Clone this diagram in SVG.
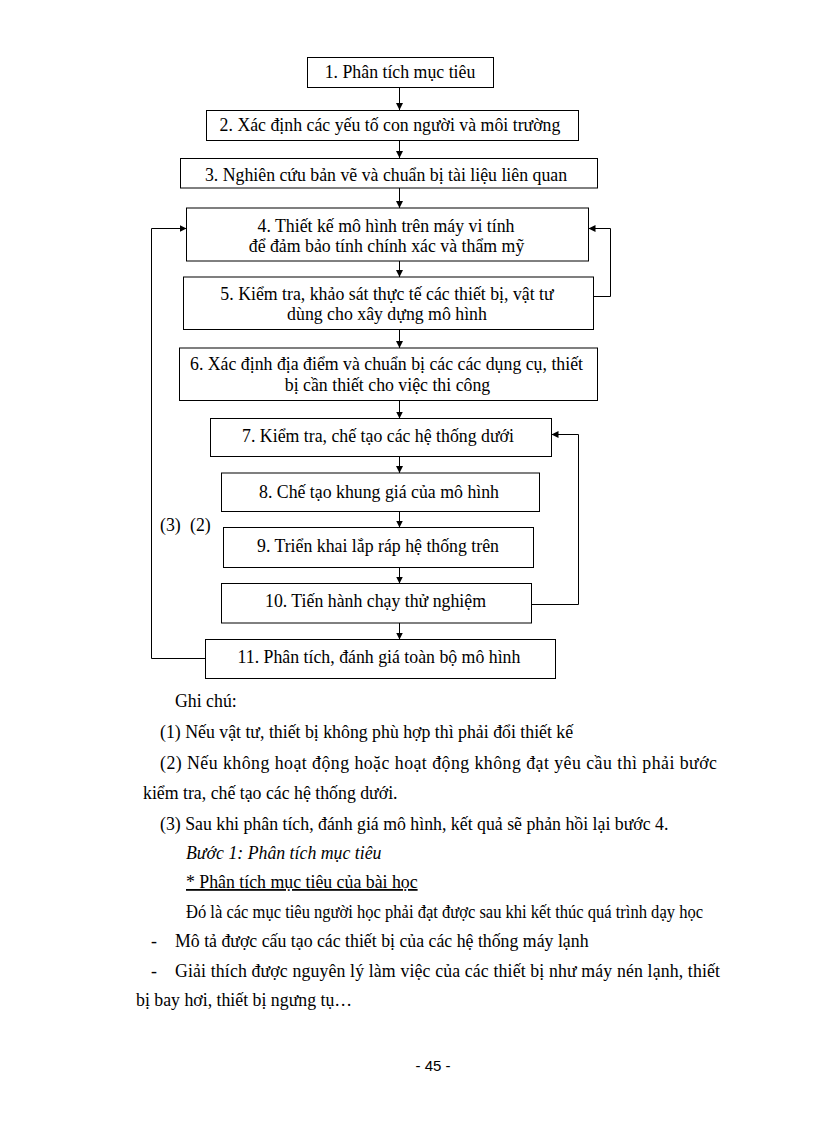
<svg xmlns="http://www.w3.org/2000/svg" width="816" height="1123" viewBox="0 0 816 1123">
<defs>
<marker id="ah" markerWidth="8" markerHeight="8" refX="7" refY="4" orient="auto" markerUnits="userSpaceOnUse">
<path d="M0,0.5 L7,4 L0,7.5 Z" fill="#000"/>
</marker>
<style>
.box{fill:#fff;stroke:#000;stroke-width:1}
.t{font-family:"Liberation Serif","Times New Roman",serif;font-size:17.8px;fill:#000}
.c{text-anchor:middle}
.ln{fill:none;stroke:#000;stroke-width:1}
</style>
</defs>
<rect width="816" height="1123" fill="#fff"/>
<g id="connectors">
<path class="ln" d="M399.5,87.5 V110" marker-end="url(#ah)"/>
<path class="ln" d="M399.5,140.5 V158" marker-end="url(#ah)"/>
<path class="ln" d="M399.5,188 V208" marker-end="url(#ah)"/>
<path class="ln" d="M399.5,261 V277" marker-end="url(#ah)"/>
<path class="ln" d="M399.5,329.5 V348" marker-end="url(#ah)"/>
<path class="ln" d="M399.5,400.5 V418.5" marker-end="url(#ah)"/>
<path class="ln" d="M399.5,456.5 V473" marker-end="url(#ah)"/>
<path class="ln" d="M399.5,511.5 V527.5" marker-end="url(#ah)"/>
<path class="ln" d="M399.5,567.5 V583.5" marker-end="url(#ah)"/>
<path class="ln" d="M399.5,623 V639.5" marker-end="url(#ah)"/>
<path class="ln" d="M593.5,296.5 H610.5 V228.5 H588.5" marker-end="url(#ah)"/>
<path class="ln" d="M531.5,604.5 H578.5 V434.5 H551.5" marker-end="url(#ah)"/>
<path class="ln" d="M205.5,658.5 H151.5 V228.5 H186.5" marker-end="url(#ah)"/>
</g>
<g id="n1"><rect class="box" x="307.5" y="57.5" width="186" height="30"/><text class="t c" x="400" y="78">1. Phân tích mục tiêu</text></g>
<g id="n2"><rect class="box" x="206.5" y="110.5" width="372" height="30"/><text class="t c" x="390" y="131">2. Xác định các yếu tố con người và môi trường</text></g>
<g id="n3"><rect class="box" x="180.5" y="158.5" width="417" height="29.5"/><text class="t c" x="386" y="181">3. Nghiên cứu bản vẽ và chuẩn bị tài liệu liên quan</text></g>
<g id="n4"><rect class="box" x="186.5" y="208" width="402" height="53"/><text class="t c" x="386" y="232">4. Thiết kế mô hình trên máy vi tính</text><text class="t c" x="386.5" y="252">để đảm bảo tính chính xác và thẩm mỹ</text></g>
<g id="n5"><rect class="box" x="183.5" y="277" width="410" height="52.5"/><text class="t c" x="387" y="300">5. Kiểm tra, khảo sát thực tế các thiết bị, vật tư</text><text class="t c" x="387" y="320">dùng cho xây dựng mô hình</text></g>
<g id="n6"><rect class="box" x="179.5" y="348" width="418" height="52.5"/><text class="t c" x="386.5" y="370">6. Xác định địa điểm và chuẩn bị các các dụng cụ, thiết</text><text class="t c" x="387.5" y="391">bị cần thiết cho việc thi công</text></g>
<g id="n7"><rect class="box" x="210.5" y="418.5" width="341" height="38"/><text class="t c" x="378" y="442">7. Kiểm tra, chế tạo các hệ thống dưới</text></g>
<g id="n8"><rect class="box" x="221.5" y="473" width="318" height="38.5"/><text class="t c" x="379" y="498">8. Chế tạo khung giá của mô hình</text></g>
<g id="n9"><rect class="box" x="223.5" y="527.5" width="310" height="40"/><text class="t c" x="378" y="552">9. Triển khai lắp ráp hệ thống trên</text></g>
<g id="n10"><rect class="box" x="221.5" y="583.5" width="310" height="39.5"/><text class="t c" x="375.5" y="607">10. Tiến hành chạy thử nghiệm</text></g>
<g id="n11"><rect class="box" x="205.5" y="639.5" width="350" height="39"/><text class="t c" x="379" y="663">11. Phân tích, đánh giá toàn bộ mô hình</text></g>
<g id="labels">
<text class="t" x="160" y="531">(3)</text>
<text class="t" x="190" y="531">(2)</text>
</g>
<g id="notes">
<text class="t" x="175" y="707">Ghi chú:</text>
<text class="t" x="160" y="738">(1) Nếu vật tư, thiết bị không phù hợp thì phải đổi thiết kế</text>
<text class="t" x="160" y="769" textLength="557" lengthAdjust="spacing">(2) Nếu không hoạt động hoặc hoạt động không đạt yêu cầu thì phải bước</text>
<text class="t" x="143" y="799">kiểm tra, chế tạo các hệ thống dưới.</text>
<text class="t" x="160" y="830">(3) Sau khi phân tích, đánh giá mô hình, kết quả sẽ phản hồi lại bước 4.</text>
<text class="t" x="186" y="859" font-style="italic">Bước 1: Phân tích mục tiêu</text>
<text class="t" x="186" y="888" text-decoration="underline">* Phân tích mục tiêu của bài học</text>
<text class="t" x="186" y="918" textLength="517" lengthAdjust="spacingAndGlyphs">Đó là các mục tiêu người học phải đạt được sau khi kết thúc quá trình dạy học</text>
<text class="t" x="151" y="947">-</text>
<text class="t" x="175" y="947">Mô tả được cấu tạo các thiết bị của các hệ thống máy lạnh</text>
<text class="t" x="151" y="977">-</text>
<text class="t" x="175" y="977" textLength="545" lengthAdjust="spacing">Giải thích được nguyên lý làm việc của các thiết bị như máy nén lạnh, thiết</text>
<text class="t" x="136" y="1006">bị bay hơi, thiết bị ngưng tụ…</text>
<text x="433" y="1071" text-anchor="middle" font-family="Liberation Sans, Arial, sans-serif" font-size="15" fill="#000">- 45 -</text>
</g>
</svg>
